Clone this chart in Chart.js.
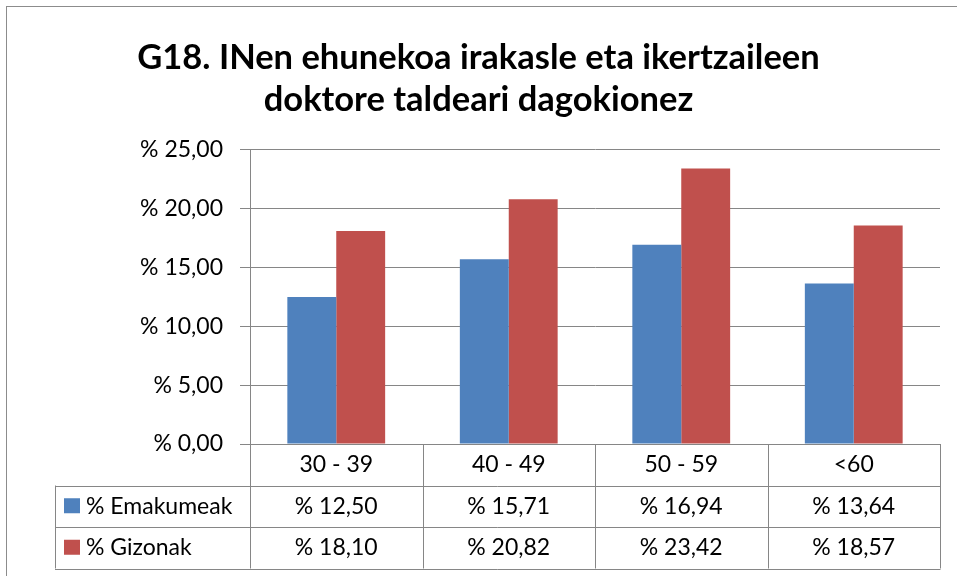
<!DOCTYPE html>
<html>
<head>
<meta charset="utf-8">
<script src="https://cdn.jsdelivr.net/npm/chart.js@4.4.1/dist/chart.umd.min.js"></script>
<style>
  body { margin: 0; background: #fff; }
  #wrap { width: 957px; height: 576px; }
</style>
</head>
<body>
<div id="wrap"><canvas id="myChart" width="957" height="576"></canvas></div>
<script>
// datuak
var categories = ['30 - 39', '40 - 49', '50 - 59', '<60'];
var emakumeak = [12.50, 15.71, 16.94, 13.64];
var gizonak = [18.10, 20.82, 23.42, 18.57];
var seriesNames = ['% Emakumeak', '% Gizonak'];
var yTicks = [0, 5, 10, 15, 20, 25];

var blue = '#4F81BD';
var red = '#C0504D';
var lineGray = '#868686';
var fontName = 'Lato, "Open Sans", sans-serif';

function pct(v) {
    return '% ' + v.toFixed(2).replace('.', ',');
}

// taula grafikoaren azpian (Excel estiloa)
var dataTable = {
    id: 'dataTable',
    beforeDraw: function(chart) {
        var c = chart.ctx;
        c.save();
        c.strokeStyle = '#8c8c8c';
        c.lineWidth = 1;
        c.strokeRect(6.5, 6.5, 1200, 1200);
        c.restore();
    },
    afterDraw: function(chart) {
        var c = chart.ctx;
        var area = chart.chartArea;
        var n = categories.length;
        var colW = (area.right - area.left) / n;
        var rowH = 41.5;
        var top = area.bottom;
        var tableLeft = 55;
        var rows = [emakumeak, gizonak];
        var colors = [blue, red];

        c.save();
        c.strokeStyle = lineGray;
        c.lineWidth = 1;
        c.beginPath();
        for (var i = 0; i <= n; i++) {
            var x = Math.round(area.left + i * colW) + 0.5;
            c.moveTo(x, top);
            c.lineTo(x, top + rowH * 3);
        }
        c.moveTo(tableLeft + 0.5, top + rowH);
        c.lineTo(tableLeft + 0.5, top + rowH * 3);
        for (var r = 1; r <= 3; r++) {
            var y = Math.round(top + rowH * r) + 0.5;
            c.moveTo(tableLeft, y);
            c.lineTo(area.right + 0.5, y);
        }
        c.stroke();

        c.fillStyle = '#000';
        c.font = '23px ' + fontName;
        c.textAlign = 'center';
        c.textBaseline = 'middle';
        for (var k = 0; k < n; k++) {
            var cx = chart.scales.x.getPixelForValue(k);
            c.fillText(categories[k], cx, top + rowH / 2);
            for (var s = 0; s < rows.length; s++) {
                c.fillText(pct(rows[s][k]), cx, top + rowH * (s + 1.5));
            }
        }
        c.textAlign = 'left';
        for (var s2 = 0; s2 < rows.length; s2++) {
            var cy = top + rowH * (s2 + 1.5);
            c.fillStyle = colors[s2];
            c.fillRect(64, cy - 8, 16, 15);
            c.fillStyle = '#000';
            c.fillText(seriesNames[s2], 86, cy);
        }
        c.restore();
    }
};

var ctx = document.getElementById('myChart').getContext('2d');
var myChart = new Chart(ctx, {
    type: 'bar',
    data: {
        labels: categories,
        datasets: [{
            label: seriesNames[0],
            data: emakumeak,
            backgroundColor: blue,
            borderWidth: 0
        }, {
            label: seriesNames[1],
            data: gizonak,
            backgroundColor: red,
            borderWidth: 0
        }]
    },
    options: {
        responsive: false,
        animation: false,
        layout: {
            padding: { left: 17, right: 17, top: 0, bottom: 132 }
        },
        datasets: {
            bar: { categoryPercentage: 0.567, barPercentage: 1 }
        },
        plugins: {
            legend: { display: false },
            tooltip: { enabled: false },
            title: {
                display: true,
                text: ['G18. INen ehunekoa irakasle eta ikertzaileen', 'doktore taldeari dagokionez'],
                color: '#000',
                font: { family: fontName, size: 34.5, weight: 'bold', lineHeight: 1.217 },
                padding: { top: 37, bottom: 29 }
            }
        },
        scales: {
            x: {
                display: false
            },
            y: {
                min: 0,
                max: 25,
                afterBuildTicks: function(scale) {
                    scale.ticks = yTicks.map(function(v) { return { value: v }; });
                },
                afterFit: function(scale) {
                    scale.width = 233;
                },
                grid: {
                    color: lineGray,
                    tickLength: 10
                },
                border: { color: lineGray },
                ticks: {
                    color: '#000',
                    padding: 17,
                    font: { family: fontName, size: 23 },
                    callback: function(v) { return pct(v); }
                }
            }
        }
    },
    plugins: [dataTable]
});
</script>
</body>
</html>
